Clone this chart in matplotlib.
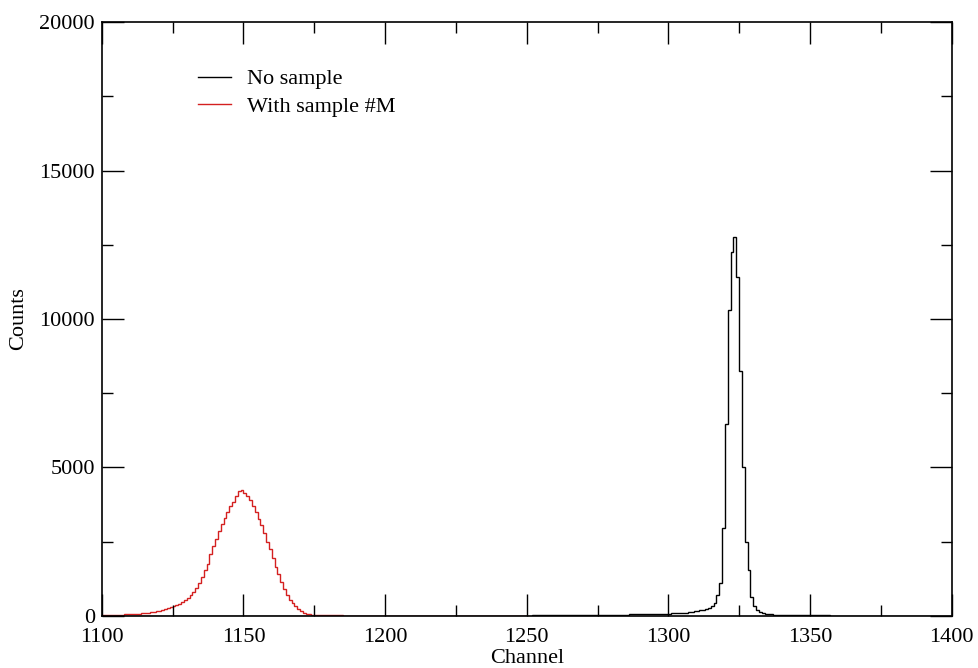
import matplotlib.pyplot as plt
from matplotlib.ticker import MultipleLocator

plt.rcParams['font.family'] = ['Liberation Serif', 'DejaVu Serif']

# channel counts, one value per channel starting at the given channel
no_sample_start = 1100
no_sample = [
    5, 5, 5, 5, 5, 5, 5, 5, 5, 5,        # 1100
    5, 5, 5, 5, 5, 5, 5, 5, 5, 5,        # 1110
    5, 5, 5, 5, 5, 5, 5, 5, 5, 5,        # 1120
    5, 5, 5, 5, 5, 5, 5, 5, 5, 5,        # 1130
    5, 5, 5, 5, 5, 5, 5, 5, 5, 5,        # 1140
    5, 5, 5, 5, 5, 5, 5, 5, 5, 5,        # 1150
    5, 5, 5, 5, 5, 5, 5, 5, 5, 5,        # 1160
    5, 5, 5, 5, 5, 5, 5, 5, 5, 5,        # 1170
    5, 5, 5, 5, 5, 5, 5, 5, 5, 5,        # 1180
    5, 5, 5, 5, 5, 5, 5, 5, 5, 5,        # 1190
    5, 5, 5, 5, 5, 5, 5, 5, 5, 5,        # 1200
    5, 5, 5, 5, 5, 5, 5, 5, 5, 5,        # 1210
    6, 6, 6, 6, 6, 6, 7, 7, 7, 7,        # 1220
    7, 7, 8, 8, 8, 8, 8, 9, 9, 9,        # 1230
    9, 10, 10, 10, 11, 11, 11, 12, 12, 12,   # 1240
    13, 13, 14, 14, 15, 15, 16, 16, 17, 18,  # 1250
    18, 19, 20, 21, 22, 23, 24, 25, 26, 27,  # 1260
    28, 29, 30, 31, 32, 33, 34, 35, 36, 38,  # 1270
    40, 41, 42, 44, 45, 46, 48, 50, 52, 54,  # 1280
    56, 58, 60, 62, 64, 66, 68, 70, 73, 76,  # 1290
    80, 84, 88, 92, 96, 100, 110, 120, 135, 150,  # 1300
    170, 190, 210, 240, 280, 330, 450, 700, 1100, 2950,  # 1310
    6450, 10300, 12250, 12750, 11400, 8250, 5000, 2500, 1550, 650,  # 1320
    330, 190, 120, 90, 70, 60, 52, 46, 42, 38,  # 1330
    35, 32, 30, 28, 26, 24, 22, 21, 20, 19,  # 1340
    18, 17, 16, 15, 15, 14, 14, 13, 13, 12,  # 1350
    12, 11, 11, 10, 10, 10, 9, 9, 9, 8,      # 1360
    8, 8, 8, 7, 7, 7, 7, 6, 6, 6,            # 1370
    6, 6, 6, 5, 5, 5, 5, 5, 5, 5,            # 1380
    5, 5, 5, 5, 5, 5, 5, 5, 5, 5,            # 1390
]

with_sample_start = 1100
with_sample = [
    30, 30, 35, 35, 40, 40, 45, 45, 50, 55,          # 1100
    60, 65, 70, 80, 90, 100, 110, 125, 140, 160,     # 1110
    180, 200, 230, 260, 290, 320, 360, 410, 470, 540,  # 1120
    610, 700, 820, 950, 1100, 1300, 1550, 1750, 2100, 2350,  # 1130
    2600, 2850, 3100, 3300, 3500, 3700, 3850, 4050, 4200, 4250,  # 1140
    4150, 4050, 3900, 3700, 3500, 3250, 3050, 2800, 2500, 2250,  # 1150
    1950, 1650, 1400, 1150, 900, 700, 550, 420, 320, 230,  # 1160
    160, 110, 80, 55, 40, 30, 26, 23, 20, 18,       # 1170
    17, 16, 15, 14, 14, 13, 13, 12, 12, 11,         # 1180
    11, 11, 10, 10, 10, 10, 9, 9, 9, 9,             # 1190
    9, 8, 8, 8, 8, 8, 8, 7, 7, 7,                   # 1200
    7, 7, 7, 7, 7, 6, 6, 6, 6, 6,                   # 1210
    6, 6, 6, 6, 6, 6, 5, 5, 5, 5,                   # 1220
    5, 5, 5, 5, 5, 5, 5, 5, 5, 5,                   # 1230
    5, 5, 5, 5, 5, 5, 5, 5, 5, 5,                   # 1240
]

fig = plt.figure(figsize=(9.79, 6.68), dpi=100)
ax = fig.add_axes([0.104, 0.078, 0.868, 0.889])

edges_a = list(range(no_sample_start, no_sample_start + len(no_sample) + 1))
edges_b = list(range(with_sample_start, with_sample_start + len(with_sample) + 1))
ax.stairs(no_sample, edges_a, color='black', linewidth=1.0, label='No sample')
ax.stairs(with_sample, edges_b, color='#d42020', linewidth=1.0, label='With sample #M')

ax.set_xlim(1100, 1400)
ax.set_ylim(0, 20000)
ax.xaxis.set_major_locator(MultipleLocator(50))
ax.xaxis.set_minor_locator(MultipleLocator(25))
ax.yaxis.set_major_locator(MultipleLocator(5000))
ax.yaxis.set_minor_locator(MultipleLocator(2500))
ax.tick_params(which='both', direction='in', top=True, right=True, labelsize=16, width=1.0)
ax.tick_params(which='major', length=16)
ax.tick_params(axis='x', which='major', pad=9)
ax.tick_params(axis='y', which='major', pad=5)
ax.tick_params(which='minor', length=8)
for s in ax.spines.values():
    s.set_linewidth(1.2)

ax.set_xlabel('Channel', fontsize=16, labelpad=1)
ax.set_ylabel('Counts', fontsize=16, labelpad=8)

ax.legend(loc='upper left', bbox_to_anchor=(0.09, 0.955), frameon=False, fontsize=16,
          handlelength=1.45, handletextpad=0.75, labelspacing=0.3)

fig.savefig('out.png', dpi=100)
